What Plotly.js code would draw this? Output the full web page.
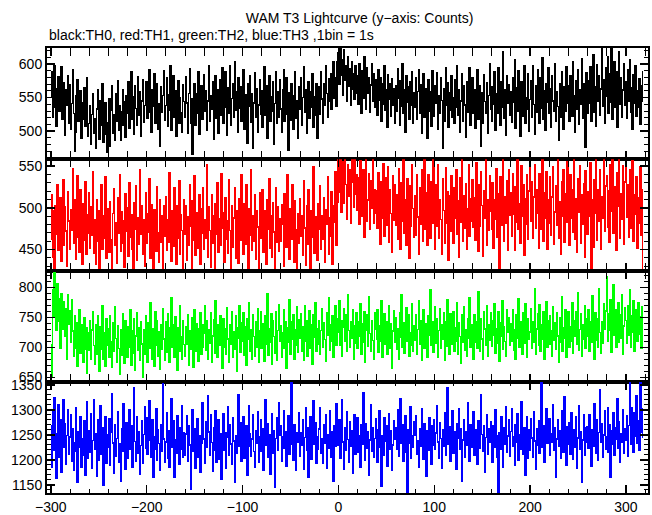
<!DOCTYPE html>
<html>
<head>
<meta charset="utf-8">
<script src="https://cdn.plot.ly/plotly-3.0.1.min.js"></script>
<style>
html,body{margin:0;padding:0;background:#fff;}
#chart{width:652px;height:515px;}
#chart .scatterlayer path.js-line{shape-rendering:crispEdges;}
</style>
</head>
<body>
<div id="chart"></div>
<script>
// Time bins: 1 bin = 1 s, starting at t = -300 s
const binStart = -300;
const binSize = 1;

// TH0 (black) counts per bin
const th0 = [
552,588,521,574,598,536,507,563,581,529,548,596,517,555,572,494,561,538,583,512,
569,503,541,592,526,470,498,553,577,515,531,560,489,542,518,565,507,549,580,493,
511,538,480,525,556,497,519,474,533,562,501,488,546,509,571,484,527,543,495,468,
512,549,478,531,568,497,524,487,556,515,575,502,538,486,529,561,509,544,491,553,
527,573,505,541,589,518,552,496,567,534,508,581,523,559,492,545,576,513,538,561,
574,519,547,592,528,498,561,537,585,511,549,570,503,541,478,566,528,553,590,516,
538,579,507,554,531,597,502,546,583,521,560,493,537,575,512,550,528,499,569,544,
520,581,542,497,556,593,511,548,465,532,571,509,555,526,588,496,543,567,518,551,
584,529,560,501,545,597,514,553,533,574,488,547,582,519,561,497,538,576,523,595,
512,557,589,536,494,565,527,598,508,549,571,520,604,531,558,499,580,534,566,515,
545,591,503,554,528,482,570,537,582,513,556,474,542,587,520,563,498,539,576,525,
560,506,547,596,523,567,489,544,583,515,552,530,573,480,541,589,512,558,521,577,
533,499,562,591,514,548,579,525,472,557,516,571,537,503,553,588,519,545,490,566,
532,580,508,550,596,528,561,497,547,574,519,558,536,585,506,552,524,571,489,545,
566,525,589,548,512,571,538,597,556,521,578,545,586,532,563,604,549,579,537,603,
617,570,625,583,606,554,621,576,598,545,611,567,593,539,604,562,586,548,597,557,
583,540,601,558,527,590,549,611,565,533,594,556,580,528,569,600,545,585,536,576,
561,523,592,546,579,515,570,540,598,531,562,506,584,547,571,522,578,538,563,512,
568,530,593,549,508,575,537,601,526,561,499,583,543,566,517,574,538,589,511,557,
535,580,518,559,592,526,569,497,552,585,521,563,540,490,576,529,558,507,590,544,
522,568,541,587,503,553,527,579,546,475,563,514,595,538,572,506,557,531,583,520,
550,512,576,535,598,524,561,499,545,586,515,567,539,491,573,528,555,594,508,547,
579,526,562,504,543,591,518,568,536,478,557,512,584,544,526,572,497,553,601,532,
515,566,540,589,501,555,527,594,546,508,573,535,619,519,561,494,583,542,569,524,
559,513,580,543,606,505,565,529,590,538,492,574,522,562,598,511,550,533,586,500,
547,575,520,597,540,496,568,528,591,552,512,579,534,610,518,560,501,570,543,594,
526,563,506,583,545,530,600,514,558,537,486,571,520,589,548,503,566,529,596,541,
568,514,582,543,522,603,553,499,575,533,592,510,561,540,608,519,570,546,476,587,
527,575,541,596,515,558,614,528,566,507,599,545,582,523,563,626,537,577,512,594,
552,611,527,586,543,628,518,573,604,536,589,506,568,618,540,580,521,561,601,538,
573,519,592,545,606,528,565,503,584,541,598,522,560,535,578,510,567,544,589
];

// TH1 (red) counts per bin
const th1 = [
462,515,441,496,423,503,468,528,449,487,512,436,479,534,455,501,472,430,519,484,
450,498,473,547,457,510,439,489,538,465,447,522,480,432,505,461,531,444,492,470,
518,452,501,467,543,446,486,433,509,460,497,426,476,528,451,490,463,537,440,499,
481,447,507,462,418,493,523,455,482,434,512,469,540,448,495,458,485,429,517,472,
500,442,530,465,492,451,422,506,474,526,437,488,456,545,468,503,445,486,430,518,
457,493,471,535,440,504,463,427,498,480,448,525,470,435,509,459,490,415,502,466,
513,449,486,459,542,475,436,496,454,524,485,432,503,463,532,444,492,473,428,510,
468,502,437,489,455,527,478,424,508,461,538,443,494,452,483,515,433,499,470,524,
450,486,464,552,441,501,473,429,516,458,491,421,505,468,530,447,487,455,541,476,
494,435,512,462,484,446,533,473,426,503,453,488,524,440,497,470,434,511,461,539,
476,444,505,456,528,483,427,499,467,546,449,490,460,515,438,496,477,424,518,463,
485,522,447,497,466,433,510,474,535,452,491,441,506,471,428,524,459,501,448,487,
460,504,480,430,517,487,453,540,470,438,499,462,527,484,435,508,474,420,493,458,
511,466,491,443,532,476,431,502,456,521,483,426,496,465,549,446,489,469,437,505,
474,526,451,490,462,512,435,498,480,537,444,488,466,519,432,503,483,543,455,507,
566,518,562,495,537,555,506,568,528,486,552,514,545,481,560,530,501,557,516,540,
497,536,480,556,512,490,546,465,526,561,484,509,541,474,532,500,564,481,522,494,
520,475,542,498,456,531,488,553,466,511,536,479,549,459,521,493,447,538,485,527,
479,516,462,547,495,451,530,484,560,470,509,455,535,492,440,526,478,552,499,465,
514,467,539,489,444,524,480,546,460,506,563,474,518,455,540,491,463,531,482,557,
493,450,528,478,552,463,510,486,445,535,497,458,548,481,519,437,514,472,538,490,
457,524,487,545,468,508,441,536,483,561,460,514,476,529,450,499,551,466,511,484,
533,477,512,461,554,492,448,527,478,543,503,442,520,487,562,455,509,473,538,496,
474,530,452,510,486,547,465,517,423,537,494,479,558,460,513,482,532,449,545,491,
518,466,541,492,449,525,483,565,474,505,458,550,490,528,443,511,480,540,462,520,
566,484,531,463,513,552,476,522,493,452,541,500,474,559,460,518,487,543,451,509,
482,537,467,513,549,456,495,526,479,568,464,507,445,531,490,546,459,517,483,555,
506,455,540,488,522,471,561,462,511,447,535,495,550,457,516,480,529,441,544,492,
468,519,490,554,428,510,453,533,494,561,461,522,484,545,450,513,488,563,472,526,
538,477,520,459,552,496,566,470,525,491,449,542,502,564,463,517,486,550,456,531,
566,489,528,465,546,508,476,556,460,516,492,537,452,512,481,549,467,521,418
];

// TH2 (green) counts per bin
const th2 = [
705,652,796,751,825,768,729,806,744,781,699,790,757,731,776,718,764,681,787,739,
761,709,779,727,686,752,698,741,669,732,763,690,738,712,675,749,697,733,657,724,
696,744,680,729,759,703,672,737,688,752,715,660,734,697,770,681,725,669,748,704,
731,684,753,709,667,741,693,768,715,676,736,698,655,730,687,756,711,674,745,716,
683,735,700,763,670,727,691,747,662,719,757,695,733,679,742,706,651,729,688,752,
720,675,741,699,774,711,681,731,668,759,703,744,686,726,664,738,697,765,714,678,
742,692,756,713,676,732,783,700,737,684,751,709,662,733,694,769,718,680,745,705,
686,735,706,755,671,728,697,749,713,667,762,693,740,711,677,731,757,688,737,700,
724,770,695,744,680,729,707,758,675,719,746,690,778,723,683,737,704,753,713,666,
748,701,731,689,766,714,676,738,705,760,683,726,697,752,660,733,716,769,692,741,
710,757,687,734,671,748,713,775,694,730,680,754,718,686,742,701,764,675,727,759,
698,740,715,677,753,705,790,687,731,709,756,672,745,718,690,760,679,728,771,711,
736,684,724,762,699,743,666,733,708,780,688,742,713,755,680,729,703,767,692,746,
716,756,694,734,679,770,710,745,685,723,761,699,737,672,754,717,775,693,731,706,
744,688,728,765,701,741,713,677,757,721,782,695,738,710,752,684,732,769,703,748,
726,777,703,745,685,733,764,711,754,693,787,728,700,742,716,763,681,736,707,758,
698,743,719,772,689,739,709,760,676,729,754,702,784,723,694,745,712,681,757,731,
713,762,692,736,711,777,683,730,756,705,743,688,722,769,698,739,666,727,761,709,
750,697,731,680,757,717,787,701,741,691,729,766,710,754,686,724,704,773,694,736,
712,755,688,730,778,706,744,678,726,762,698,740,716,683,753,721,796,703,742,692,
731,768,707,747,684,728,764,699,738,714,758,679,743,702,780,719,688,756,727,705,
759,694,733,711,775,688,741,718,674,754,709,767,696,730,685,747,715,783,701,738,
721,681,755,708,743,698,792,725,693,747,714,680,760,731,704,770,685,737,712,757,
702,745,720,773,690,731,707,759,677,741,718,777,697,734,710,686,763,725,750,703,
740,711,762,695,729,680,754,716,781,700,743,719,689,758,707,772,727,683,748,714,
726,765,699,743,708,798,688,731,756,704,771,694,737,713,760,681,724,776,701,745,
706,752,727,686,768,712,741,697,758,719,676,749,709,785,693,733,716,762,684,742,
760,700,735,711,774,690,744,718,759,705,791,696,730,756,686,738,713,769,699,747,
719,763,694,743,708,786,727,681,757,712,748,700,797,725,690,742,707,772,730,761,
818,710,756,729,780,692,748,805,720,762,700,741,774,708,755,716,787,688,736,766,
745,707,770,721,796,700,752,726,778,693,740,763,711,774,722,751,699,767,733
];

// TH3 (blue) counts per bin
const th3 = [
1268,1186,1297,1219,1325,1252,1163,1240,1310,1205,1281,1175,1258,1321,1226,1273,1192,1249,1300,1212,
1246,1290,1198,1262,1180,1234,1305,1217,1155,1256,1225,1287,1185,1242,1209,1278,1170,1231,1316,1203,
1259,1215,1292,1183,1239,1320,1222,1253,1168,1280,1199,1247,1308,1211,1265,1150,1236,1286,1194,1250,
1226,1283,1189,1256,1333,1234,1174,1270,1207,1243,1296,1196,1232,1158,1262,1218,1312,1241,1182,1275,
1203,1250,1301,1221,1268,1186,1244,1345,1237,1198,1287,1213,1257,1171,1229,1279,1193,1251,1307,1224,
1285,1212,1253,1318,1239,1206,1281,1166,1247,1222,1302,1200,1261,1233,1179,1270,1218,1352,1242,1195,
1236,1295,1204,1258,1186,1245,1322,1226,1278,1165,1240,1214,1289,1249,1191,1264,1222,1309,1205,1255,
1210,1252,1288,1197,1268,1230,1142,1246,1300,1217,1262,1184,1239,1283,1206,1249,1175,1233,1314,1259,
1242,1193,1276,1225,1328,1256,1210,1290,1235,1178,1265,1219,1298,1196,1244,1281,1201,1253,1162,1237,
1292,1220,1254,1183,1245,1306,1209,1270,1232,1192,1284,1238,1155,1249,1214,1263,1330,1228,1274,1198,
1248,1287,1203,1237,1268,1169,1227,1309,1253,1208,1242,1291,1217,1186,1259,1234,1297,1195,1246,1280,
1218,1262,1180,1240,1321,1229,1273,1205,1251,1172,1236,1292,1213,1258,1146,1243,1284,1220,1315,1250,
1268,1197,1247,1298,1223,1257,1188,1241,1289,1211,1261,1356,1231,1199,1270,1224,1179,1254,1236,1294,
1208,1254,1229,1280,1182,1245,1305,1219,1264,1166,1237,1287,1202,1249,1318,1232,1275,1193,1246,1222,
1262,1304,1214,1242,1193,1270,1233,1291,1183,1250,1224,1298,1206,1256,1238,1157,1268,1227,1312,1247,
1229,1281,1204,1252,1320,1236,1181,1264,1219,1296,1241,1196,1277,1228,1259,1173,1245,1290,1212,1260,
1285,1215,1248,1186,1270,1232,1334,1250,1200,1273,1224,1257,1170,1240,1311,1218,1264,1206,1243,1282,
1237,1195,1260,1298,1226,1148,1249,1210,1284,1237,1268,1188,1246,1293,1221,1258,1180,1230,1279,1242,
1264,1222,1300,1207,1251,1322,1233,1270,1197,1244,1288,1216,1130,1261,1234,1306,1203,1249,1225,1276,
1250,1289,1211,1239,1186,1262,1228,1303,1245,1201,1272,1235,1168,1258,1219,1284,1241,1191,1268,1230,
1281,1221,1254,1309,1236,1204,1275,1243,1183,1261,1228,1294,1210,1250,1344,1232,1267,1197,1246,1299,
1213,1256,1233,1182,1273,1243,1302,1222,1263,1158,1240,1281,1206,1257,1229,1315,1237,1198,1270,1226,
1247,1296,1209,1260,1231,1192,1279,1242,1224,1331,1251,1218,1268,1176,1245,1291,1212,1262,1235,1276,
1238,1196,1269,1226,1301,1249,1205,1128,1255,1222,1286,1239,1185,1264,1232,1307,1216,1248,1281,1208,
1257,1303,1228,1247,1189,1271,1236,1293,1199,1250,1222,1317,1242,1212,1265,1170,1234,1287,1204,1261,
1220,1282,1244,1206,1296,1238,1181,1262,1230,1279,1214,1250,1355,1226,1268,1195,1246,1302,1233,1253,
1283,1210,1252,1236,1311,1220,1265,1165,1242,1280,1228,1259,1203,1298,1247,1216,1326,1239,1190,1267,
1232,1274,1212,1295,1248,1201,1261,1225,1287,1184,1244,1308,1221,1257,1155,1240,1290,1210,1264,1235,
1266,1224,1291,1243,1187,1261,1228,1312,1247,1213,1281,1200,1255,1340,1236,1273,1206,1250,1298,1221,
1246,1305,1215,1270,1166,1258,1231,1294,1209,1264,1241,1323,1224,1276,1195,1253,1236,1301,1213,1262,
1240,1288,1208,1269,1360,1232,1305,1261,1216,1294,1248,1328,1233,1279,1220,1355,1256,1302,1246
];

const seriesNames = ['TH0', 'TH1', 'TH2', 'TH3'];
const seriesColors = ['#000000', '#ff0000', '#00ff00', '#0000ff'];
const seriesData = [th0, th1, th2, th3];
const yRanges = [[458, 624], [425, 558], [643, 828], [1134, 1356]];

const fontFam = 'Liberation Sans, Arial, Helvetica, sans-serif';
const traces = seriesData.map((vals, k) => ({
  type: 'scatter',
  mode: 'lines',
  name: seriesNames[k],
  x: vals.map((_, i) => binStart + i * binSize),
  y: vals,
  xaxis: 'x',
  yaxis: k === 0 ? 'y' : 'y' + (k + 1),
  line: {color: seriesColors[k], width: 1.5, shape: 'hvh'},
  hoverinfo: 'x+y'
}));

const layout = {
  width: 652,
  height: 515,
  margin: {l: 47, r: 4, t: 48, b: 22},
  paper_bgcolor: '#ffffff',
  plot_bgcolor: '#ffffff',
  showlegend: false,
  font: {family: fontFam, size: 14, color: '#000'},
  title: {
    text: 'WAM T3 Lightcurve (y\u2212axis: Counts)',
    xref: 'paper', x: 0.52, xanchor: 'center',
    yref: 'container', y: 1 - 18 / 515, yanchor: 'middle',
    font: {family: fontFam, size: 14, color: '#000'}
  },
  annotations: [{
    text: 'black:TH0, red:TH1, green:TH2, blue:TH3 ,1bin = 1s',
    xref: 'paper', yref: 'paper', x: 0, y: 1 + 13 / 445,
    xanchor: 'left', yanchor: 'middle', showarrow: false,
    font: {family: fontFam, size: 14, color: '#000'}
  }],
  xaxis: {
    domain: [0, 1], anchor: 'y4', range: [-304, 323],
    tick0: 0, dtick: 100, ticks: 'inside', ticklen: 8, tickwidth: 1.5, tickcolor: '#000',
    minor: {dtick: 20, ticks: 'inside', ticklen: 4, tickcolor: '#000', tickwidth: 1},
    mirror: 'allticks', showline: true, linecolor: '#000', linewidth: 2,
    showgrid: false, zeroline: false,
    tickfont: {family: fontFam, size: 14, color: '#000'}
  }
};

const n = 4;
for (let k = 0; k < n; k++) {
  const key = k === 0 ? 'yaxis' : 'yaxis' + (k + 1);
  layout[key] = {
    domain: [(n - 1 - k) / n, (n - k) / n], anchor: 'x', range: yRanges[k],
    tick0: 0, dtick: 50, ticks: 'inside', ticklen: 8, tickwidth: 1.5, tickcolor: '#000',
    minor: {dtick: 10, ticks: 'inside', ticklen: 4, tickcolor: '#000', tickwidth: 1},
    mirror: 'ticks', showline: true, linecolor: '#000', linewidth: 2,
    showgrid: false, zeroline: false,
    tickfont: {family: fontFam, size: 14, color: '#000'}
  };
}

Plotly.newPlot('chart', traces, layout, {staticPlot: true, displayModeBar: false});
</script>
</body>
</html>
